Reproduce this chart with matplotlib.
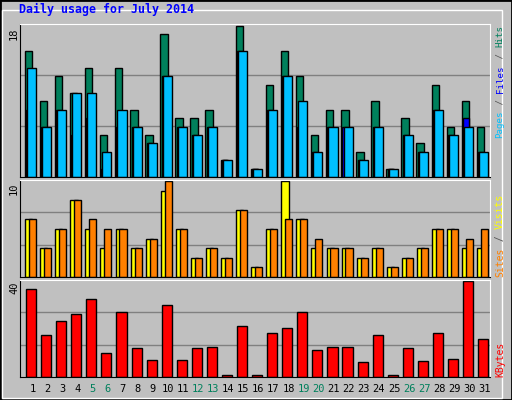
import matplotlib
matplotlib.use("Agg")
import matplotlib.pyplot as plt
from matplotlib.patches import Rectangle

days = list(range(1, 32))
weekend = [5, 6, 12, 13, 19, 20, 26, 27]
hits = [15, 9, 12, 10, 13, 5, 13, 8, 5, 17, 7, 7, 8, 2, 18, 1, 11, 15, 12, 5, 8, 8, 3, 9, 1, 7, 4, 11, 6, 9, 6]
files = [13, 6, 8, 10, 10, 3, 8, 6, 4, 12, 6, 5, 6, 2, 15, 1, 8, 12, 9, 3, 6, 6, 2, 6, 1, 5, 3, 8, 5, 6, 3]
pages = [8, 6, 8, 5, 7, 1, 6, 6, 4, 12, 6, 5, 6, 2, 15, 1, 8, 12, 6, 3, 6, 6, 2, 6, 1, 5, 3, 8, 5, 7, 3]
visits = [6, 3, 5, 8, 5, 3, 5, 3, 4, 9, 5, 2, 3, 2, 7, 1, 5, 10, 6, 3, 3, 3, 2, 3, 1, 2, 3, 5, 5, 3, 3]
sites = [6, 3, 5, 8, 6, 5, 5, 3, 4, 10, 5, 2, 3, 2, 7, 1, 5, 6, 6, 4, 3, 3, 2, 3, 1, 2, 3, 5, 5, 4, 5]
kbytes = [36.9, 17.6, 23.3, 26.4, 32.5, 10.1, 27.2, 12.3, 7.0, 29.9, 7.0, 12.3, 12.7, 0.9, 21.1, 0.9,
          18.4, 20.6, 27.2, 11.4, 12.7, 12.7, 6.1, 17.6, 0.9, 12.3, 6.6, 18.4, 7.5, 40.0, 15.8]

W, H = 512, 400
GRAY = "#C0C0C0"
C_HITS, C_FILES, C_PAGES = "#00805C", "#00C0FF", "#0000FF"
C_VISITS, C_SITES, C_KB = "#FFFF00", "#FF8000", "#FF0000"
MONO = "DejaVu Sans Mono"

fig = plt.figure(figsize=(W / 100, H / 100), dpi=100, facecolor=GRAY)
fig.patches.append(Rectangle((0, 0), 1, 1, transform=fig.transFigure, fill=False,
                             edgecolor="black", lw=2))
fig.patches.append(Rectangle((2 / W, 2 / H), 1 - 12 / W, 1 - 12 / H, transform=fig.transFigure,
                             fill=False, edgecolor="white", lw=1))


def panel(top, bottom, ymax):
    ax = fig.add_axes([20 / W, 1 - bottom / H, 470 / W, (bottom - top) / H])
    ax.set_facecolor(GRAY)
    ax.set_xlim(0.18, 31.37)
    ax.set_ylim(0, ymax)
    for k in (1, 2):
        ax.axhline(ymax * k / 3, color="#808080", lw=1, zorder=0)
    ax.set_xticks([])
    ax.set_yticks([])
    for s in ("left", "bottom"):
        ax.spines[s].set_color("black")
    for s in ("top", "right"):
        ax.spines[s].set_color("white")
    return ax


def bars(ax, vals, left, right, color):
    ax.bar([d + left for d in days], vals, width=right - left, align="edge",
           color=color, edgecolor="black", lw=1, zorder=2)


ax1 = panel(24, 177, 18.2)
bars(ax1, hits, -0.51, -0.02, C_HITS)
bars(ax1, pages, -0.42, -0.05, C_PAGES)
bars(ax1, files, -0.35, 0.25, C_FILES)

ax2 = panel(180, 277, 10.1)
bars(ax2, visits, -0.48, 0.0, C_VISITS)
bars(ax2, sites, -0.22, 0.25, C_SITES)

ax3 = panel(280, 377, 40.5)
bars(ax3, kbytes, -0.42, 0.25, C_KB)

fig.text(19 / W, 1 - 16 / H, "Daily usage for July 2014", family=MONO, weight="bold",
         color="#0000FF", fontsize=8.4, va="bottom")

for y, lab in ((27, "18"), (182, "10"), (281, "40")):
    fig.text(14 / W, 1 - y / H, lab, family=MONO, fontsize=7.5, rotation=90,
             ha="center", va="top")

for d in days:
    x = (20 + (d - 0.18) / (31.37 - 0.18) * 470) / W
    fig.text(x, 1 - 389 / H, str(d), family=MONO, fontsize=7.5, ha="center", va="center",
             color=C_HITS if d in weekend else "black")


def side_label(bottom, parts, size):
    step = size * 100 / 72 * 0.602 + 0.15
    y = bottom
    for txt, col in parts:
        fig.text(500 / W, 1 - y / H, txt, family=MONO, fontsize=size, rotation=90,
                 ha="center", va="bottom", color=col)
        y -= step * len(txt)


side_label(138, [("Pages", C_FILES), (" / ", "#555555"), ("Files", C_PAGES),
                 (" / ", "#555555"), ("Hits", C_HITS)], 6.6)
side_label(277, [("Sites", C_SITES), (" / ", "#555555"), ("Visits", C_VISITS)], 7.0)
side_label(377, [("KBytes", C_KB)], 7.0)

fig.savefig("out.png", dpi=100, facecolor=GRAY)
